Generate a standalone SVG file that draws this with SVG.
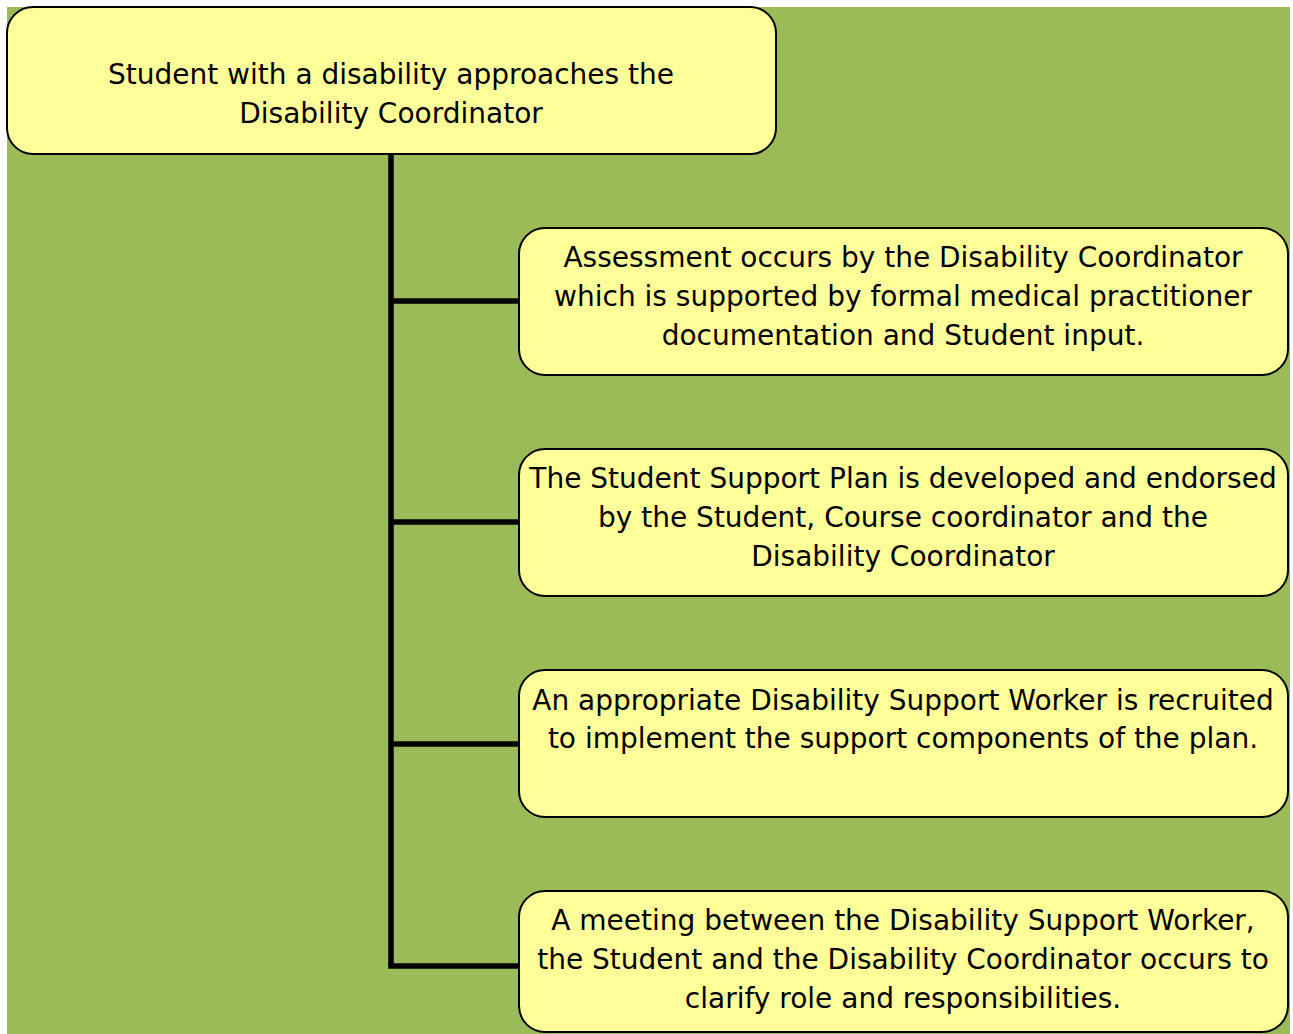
<svg xmlns="http://www.w3.org/2000/svg" width="1293" height="1034" viewBox="0 0 1293 1034">
<style>
.box{fill:#FFFF99;stroke:#000;stroke-width:2}
.t{font-family:"DejaVu Sans",Verdana,sans-serif;font-size:28px;fill:#000;text-anchor:middle}
.c{stroke:#000;stroke-width:5.5;fill:none}
</style>
<rect x="0" y="0" width="1293" height="1034" fill="#fff"/>
<rect x="7" y="7" width="1283" height="1027" fill="#9BBB59"/>
<g id="connectors">
<path class="c" d="M391,154 V966"/>
<path class="c" d="M391,301 H519"/>
<path class="c" d="M391,522 H519"/>
<path class="c" d="M391,744 H519"/>
<path class="c" d="M388.25,966 H519"/>
</g>
<g id="n0">
<rect class="box" x="7" y="7" width="769" height="147" rx="26"/>
<text class="t" x="391" y="84">Student with a disability approaches the</text>
<text class="t" x="391" y="123">Disability Coordinator</text>
</g>
<g id="n1">
<rect class="box" x="519" y="228" width="769" height="147" rx="26"/>
<text class="t" x="903" y="267">Assessment occurs by the Disability Coordinator</text>
<text class="t" x="903" y="306">which is supported by formal medical practitioner</text>
<text class="t" x="903" y="345">documentation and Student input.</text>
</g>
<g id="n2">
<rect class="box" x="519" y="449" width="769" height="147" rx="26"/>
<text class="t" x="903" y="488">The Student Support Plan is developed and endorsed</text>
<text class="t" x="903" y="527">by the Student, Course coordinator and the</text>
<text class="t" x="903" y="566">Disability Coordinator</text>
</g>
<g id="n3">
<rect class="box" x="519" y="670" width="769" height="147" rx="26"/>
<text class="t" x="903" y="710">An appropriate Disability Support Worker is recruited</text>
<text class="t" x="903" y="748">to implement the support components of the plan.</text>
</g>
<g id="n4">
<rect class="box" x="519" y="891" width="769" height="141" rx="26"/>
<text class="t" x="903" y="930">A meeting between the Disability Support Worker,</text>
<text class="t" x="903" y="969">the Student and the Disability Coordinator occurs to</text>
<text class="t" x="903" y="1008">clarify role and responsibilities.</text>
</g>
</svg>
